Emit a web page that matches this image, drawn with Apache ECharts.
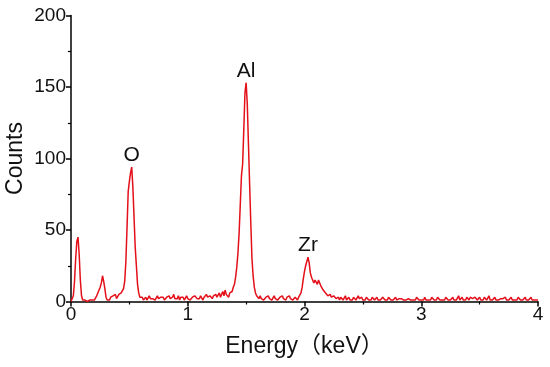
<!DOCTYPE html>
<html>
<head>
<meta charset="utf-8">
<script src="https://cdn.jsdelivr.net/npm/echarts@6/dist/echarts.min.js"></script>
<style>html,body{margin:0;padding:0;background:#fff;}#c{width:550px;height:367px;}</style>
</head>
<body>
<div id="c"></div>
<script>
// Spectrum sampled every 0.01 keV starting at 0.00 keV
var energyStart = 0.0;
var energyStep = 0.01;
var counts = [
  0, 1, 4, 14, 30, 42, 45, 33, 15, 4,
  1, 0, 1, 1, 0, 1, 1, 0, 1, 1,
  1, 2, 4, 6, 8, 10, 13, 18, 14, 9,
  3, 1, 2, 1, 3, 2, 4, 3, 5, 2,
  3, 5, 4, 6, 5, 9, 14, 28, 52, 77,
  84, 90, 94, 80, 59, 38, 25, 12, 6, 3,
  2, 3, 1, 2, 3, 1, 2, 4, 2, 1,
  2, 3, 1, 2, 4, 2, 1, 3, 2, 3,
  1, 2, 3, 2, 4, 2, 1, 3, 5, 2,
  3, 2, 4, 1, 3, 2, 3, 1, 2, 4,
  2, 3, 1, 2, 3, 2, 4, 3, 2, 3,
  2, 4, 3, 1, 3, 2, 5, 3, 2, 4,
  3, 2, 4, 3, 5, 3, 4, 6, 3, 5,
  7, 4, 8, 5, 4, 3, 6, 5, 7, 10,
  12, 17, 24, 34, 48, 68, 88, 96, 120, 146,
  153, 138, 110, 82, 55, 30, 18, 10, 6, 4,
  3, 2, 4, 2, 3, 1, 2, 3, 2, 4,
  2, 3, 1, 2, 4, 2, 3, 1, 2, 3,
  2, 4, 2, 3, 1, 3, 2, 4, 2, 3,
  1, 2, 3, 2, 1, 3, 2, 6, 10, 16,
  21, 25, 28, 31, 27, 20, 17, 16, 13, 15,
  14, 12, 15, 13, 11, 10, 8, 7, 6, 5,
  4, 3, 5, 3, 2, 4, 3, 2, 2, 3,
  1, 3, 2, 1, 2, 4, 1, 2, 3, 1,
  2, 1, 3, 2, 1, 2, 4, 2, 1, 3,
  1, 2, 1, 3, 2, 1, 2, 1, 3, 2,
  1, 2, 3, 1, 2, 1, 1, 3, 2, 1,
  2, 1, 3, 2, 1, 2, 1, 2, 3, 1,
  1, 2, 1, 2, 3, 1, 2, 1, 1, 2,
  3, 1, 2, 1, 2, 1, 3, 2, 1, 2,
  1, 2, 1, 3, 1, 2, 1, 2, 1, 3,
  2, 1, 2, 1, 3, 2, 1, 2, 1, 2,
  1, 3, 2, 1, 2, 1, 2, 3, 1, 2,
  1, 2, 4, 1, 2, 3, 1, 2, 1, 3,
  2, 1, 3, 4, 2, 1, 3, 2, 1, 2,
  3, 1, 2, 1, 3, 2, 1, 2, 4, 1,
  2, 1, 2, 3, 1, 2, 1, 1, 2, 1,
  2, 1, 3, 1, 2, 1, 2, 3, 1, 2,
  1, 2, 1, 3, 2, 1, 2, 1, 2, 3,
  1, 2, 1, 2, 3, 1, 2, 1, 2, 1,
  1
];
var peakLabels = ['O', 'Al', 'Zr'];
var peakEnergies = [0.52, 1.50, 2.03];
var peakCounts = [94, 153, 31];
var xTicks = [0, 1, 2, 3, 4];
var yTicks = [0, 50, 100, 150, 200];

var data = counts.map(function (v, i) { return [+(energyStart + i * energyStep).toFixed(2), v]; });
var FONT = '"Liberation Sans", Arial, "Noto Sans CJK SC", sans-serif';
var chart = echarts.init(document.getElementById('c'), null, {renderer: 'canvas'});
chart.setOption({
  animation: false,
  backgroundColor: '#fff',
  grid: {left: 71, right: 12, top: 15.5, bottom: 65.5, containLabel: false, outerBoundsMode: 'none'},
  xAxis: {
    type: 'value', min: xTicks[0], max: xTicks[xTicks.length - 1], interval: 1,
    name: 'Energy（keV）', nameLocation: 'middle', nameGap: 34, nameMoveOverlap: false,
    nameTextStyle: {fontFamily: FONT, fontSize: 23, color: '#111'},
    axisLine: {lineStyle: {color: '#000', width: 1.5}},
    axisTick: {inside: false, length: 5, lineStyle: {color: '#000', width: 1.5}},
    minorTick: {show: true, splitNumber: 2, length: 3, lineStyle: {color: '#000', width: 1.2}},
    axisLabel: {fontFamily: FONT, fontSize: 19, color: '#111', margin: 4},
    splitLine: {show: false}
  },
  yAxis: {
    type: 'value', min: yTicks[0], max: yTicks[yTicks.length - 1], interval: 50,
    name: 'Counts', nameLocation: 'middle', nameGap: 44, nameRotate: 90, nameMoveOverlap: false,
    nameTextStyle: {fontFamily: FONT, fontSize: 23, color: '#111'},
    axisLine: {show: true, lineStyle: {color: '#000', width: 1.5}},
    axisTick: {show: true, inside: false, length: 5, lineStyle: {color: '#000', width: 1.5}},
    minorTick: {show: true, splitNumber: 2, length: 3, lineStyle: {color: '#000', width: 1.2}},
    axisLabel: {fontFamily: FONT, fontSize: 19, color: '#111', margin: 5},
    splitLine: {show: false}
  },
  series: [{
    type: 'line',
    data: data,
    showSymbol: false,
    symbol: 'none',
    lineStyle: {color: '#e3101a', width: 1.5},
    markPoint: {
      symbol: 'circle', symbolSize: 1,
      itemStyle: {color: 'rgba(0,0,0,0)'},
      label: {show: true, position: 'top', distance: 1, fontFamily: FONT, fontSize: 21, color: '#111',
        formatter: function (p) { return p.name; }},
      data: peakLabels.map(function (n, i) { return {name: n, coord: [peakEnergies[i], peakCounts[i]]}; })
    }
  }]
});
</script>
</body>
</html>
